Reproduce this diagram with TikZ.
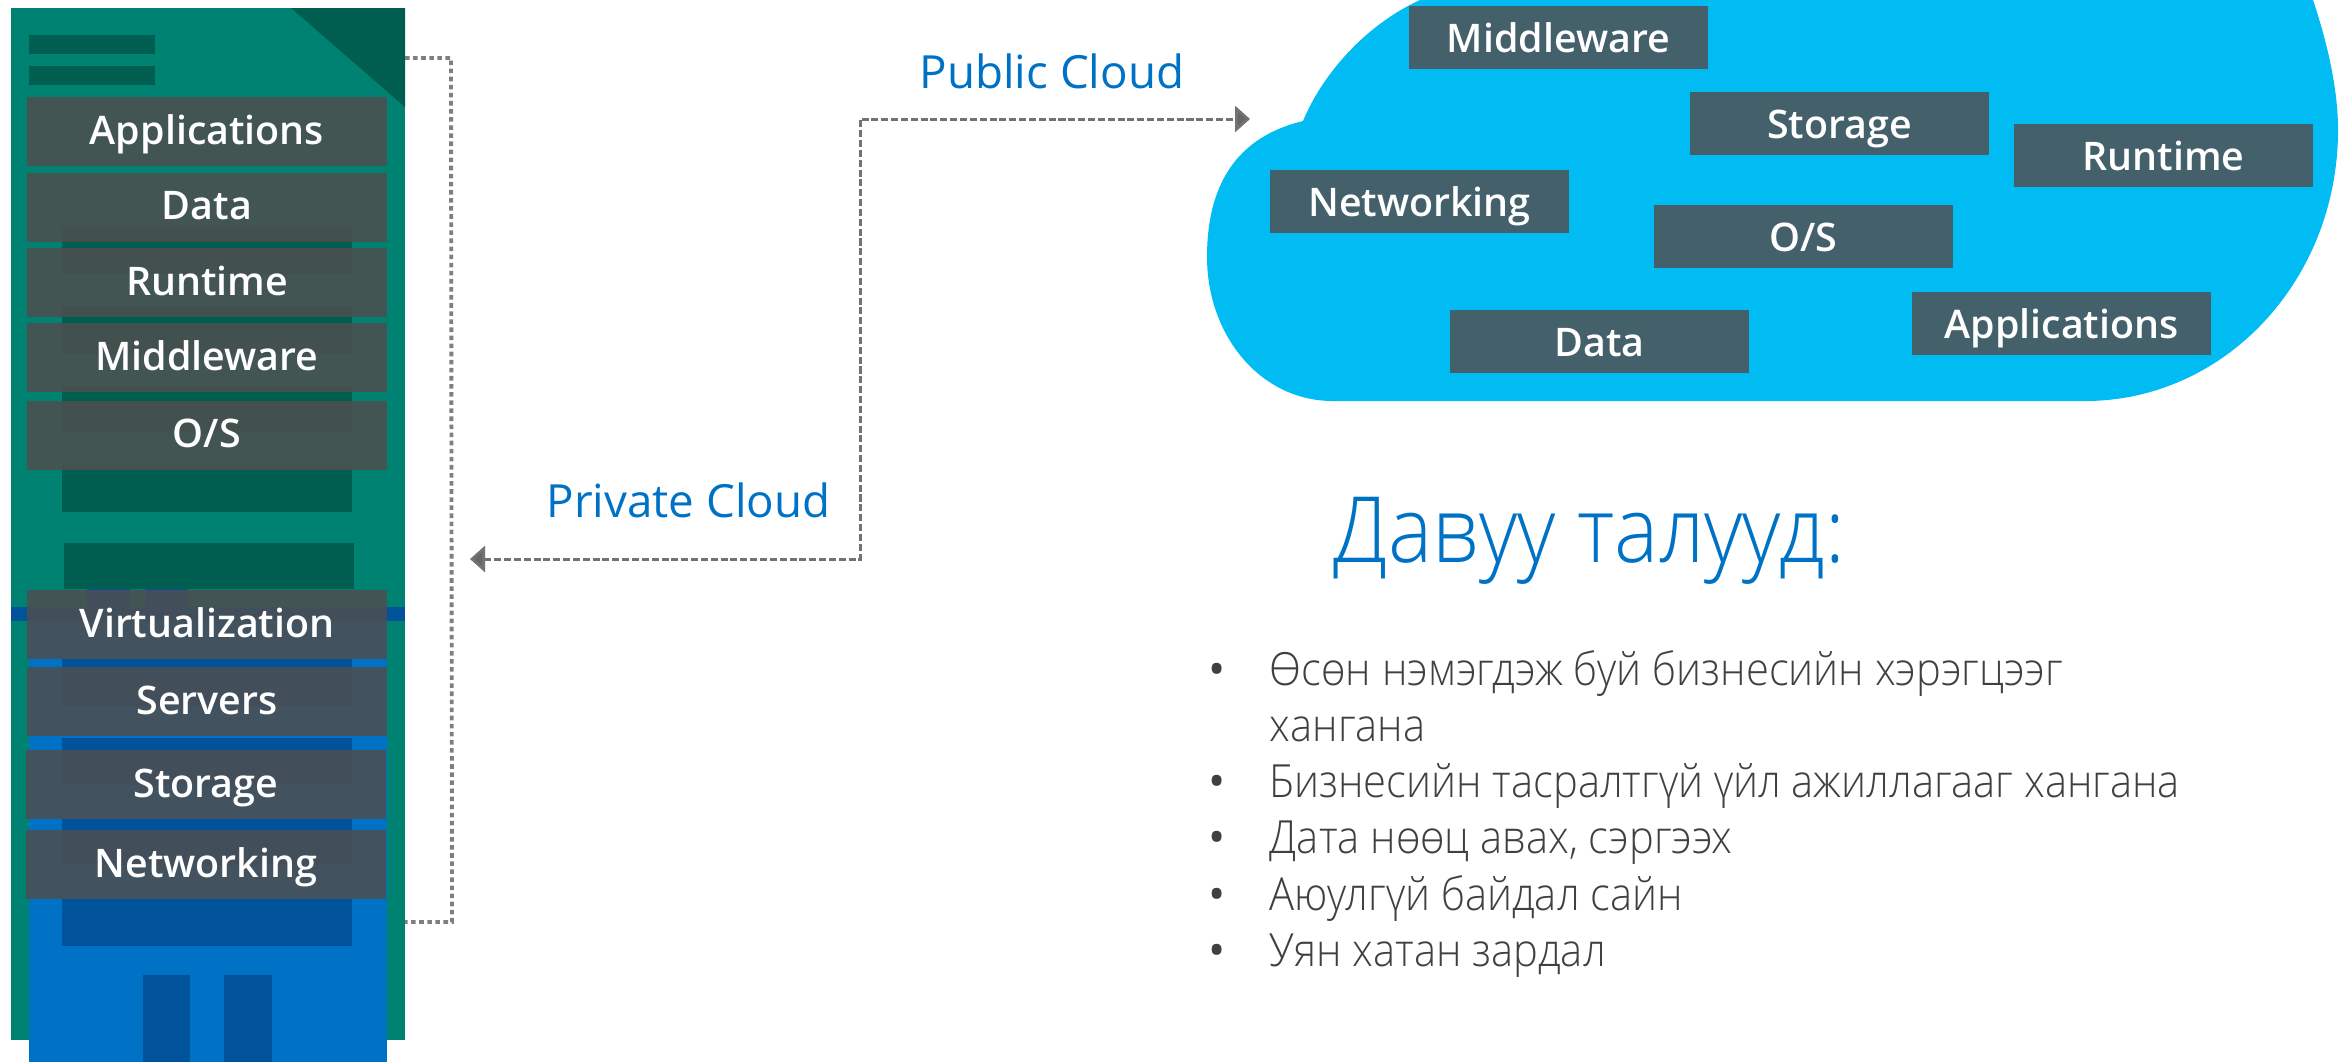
\documentclass[tikz,border=0pt]{standalone}
\usepackage{fontspec}
\usepackage{xcolor}
\usetikzlibrary{arrows.meta}
\setmainfont{Open Sans}
\newfontfamily\slabfont{Open Sans Semibold}
\newfontfamily\thinfont[FakeStretch=0.912]{Open Sans Light}
\definecolor{rackgreen}{HTML}{008272}
\definecolor{rackdarkgreen}{HTML}{005E50}
\definecolor{rackblue}{HTML}{0072C6}
\definecolor{rackdarkblue}{HTML}{00539A}
\definecolor{cloudblue}{HTML}{00BCF2}
\definecolor{slabgray}{HTML}{4E4E4E}
\definecolor{cloudslab}{HTML}{44606A}
\definecolor{bodygray}{HTML}{404040}
\definecolor{linegray}{HTML}{7F7F7F}
\tikzset{
    x=0.01cm,y=-0.01cm,
    rackslab/.style={fill=slabgray,fill opacity=0.85,text opacity=1,text=white,inner sep=0pt,minimum width=3.6cm,text height=0.47cm,text depth=0.22cm,font=\slabfont\fontsize{11.2}{13}\selectfont},
    cloudbox/.style={fill=cloudslab,text=white,inner sep=0pt,minimum width=2.99cm,text height=0.46cm,text depth=0.17cm,font=\slabfont\fontsize{11.2}{13}\selectfont},
    bluelabel/.style={anchor=base west,inner sep=0pt,text=rackblue,font=\fontsize{13}{15}\selectfont},
    bodyline/.style={anchor=base west,inner sep=0pt,text=bodygray,font=\thinfont\fontsize{13}{15}\selectfont},
    bulletmark/.style={anchor=base,inner sep=0pt,text=bodygray,font=\fontsize{13}{15}\selectfont},
    linkline/.style={draw=linegray!90!black,line width=0.85pt,dash pattern=on 2pt off 0.8pt,{Triangle[length=0.15cm,width=0.26cm,fill=linegray!80!black]}-{Triangle[length=0.15cm,width=0.26cm,fill=linegray!80!black]}},
    rackline/.style={draw=linegray,line width=1.1pt,dash pattern=on 1.3pt off 1pt}
}
\begin{document}
\begin{tikzpicture}
                \useasboundingbox (0,0) rectangle (2349,1062);
                % rack
                \fill[rackgreen] (11,8) rectangle (405,1040);
                \fill[rackdarkgreen] (291,8) -- (405,8) -- (405,107) -- cycle;
                \fill[rackdarkgreen] (29,35) rectangle (155,54);
                \fill[rackdarkgreen] (29,66) rectangle (155,85);
                \fill[rackdarkgreen] (62,227) rectangle (352,274);
                \fill[rackdarkgreen] (62,306) rectangle (352,354);
                \fill[rackdarkgreen] (62,386) rectangle (352,433);
                \fill[rackdarkgreen] (62,465) rectangle (352,512);
                \fill[rackdarkgreen] (64,543) rectangle (354,589);
                \fill[rackdarkblue] (87,589) rectangle (130,607);
                \fill[rackdarkblue] (145,589) rectangle (188,607);
                \fill[rackdarkblue] (11,607) rectangle (405,621);
                \fill[rackblue] (29,621) rectangle (387,1062);
                \fill[rackdarkblue] (62,659) rectangle (352,706);
                \fill[rackdarkblue] (62,738) rectangle (352,785);
                \fill[rackdarkblue] (62,819) rectangle (352,865);
                \fill[rackdarkblue] (62,899) rectangle (352,946);
                \fill[rackdarkblue] (143,975) rectangle (190,1062);
                \fill[rackdarkblue] (224,975) rectangle (272,1062);

                \node[rackslab] (rackapps) at (207,131.5) {Applications};
                \node[rackslab] (rackdata) at (207,207.25) {Data};
                \node[rackslab] (rackruntime) at (207,282.5) {Runtime};
                \node[rackslab] (rackmiddle) at (207,357.75) {Middleware};
                \node[rackslab] (rackos) at (207,435.25) {O/S};
                \node[rackslab] (rackvirt) at (207,624.5) {Virtualization};
                \node[rackslab] (rackservers) at (207,701.5) {Servers};
                \node[rackslab] (rackstorage) at (206,784.5) {Storage};
                \node[rackslab] (racknet) at (206,864.5) {Networking};

                % cloud
                \fill[cloudblue] (1303,121) .. controls (1322,75) and (1365,25) .. (1420,0) -- (2313,0)
                    .. controls (2328,45) and (2338,90) .. (2338,130) .. controls (2338,280) and (2225,401) .. (2085,401)
                    -- (1333,401) .. controls (1260,401) and (1207,335) .. (1207,257)
                    .. controls (1207,175) and (1245,135) .. (1303,121) -- cycle;
                \node[cloudbox] (cloudmiddle) at (1558.5,37.5) {Middleware};
                \node[cloudbox] (cloudstorage) at (1839.5,123.5) {Storage};
                \node[cloudbox] (cloudruntime) at (2163.5,155.5) {Runtime};
                \node[cloudbox] (cloudnet) at (1419.5,201.5) {Networking};
                \node[cloudbox] (cloudos) at (1803.5,236.5) {O/S};
                \node[cloudbox] (clouddata) at (1599.5,341.5) {Data};
                \node[cloudbox] (cloudapps) at (2061.5,323.5) {Applications};

                % links
                \coordinate (racktop) at (405,58);
                \coordinate (racktopbend) at (451,58);
                \coordinate (rackbotbend) at (452,922);
                \coordinate (rackbot) at (405,922);
                \draw[rackline] (racktop) -- (racktopbend) -- (rackbotbend) -- (rackbot);
                \coordinate (privatetip) at (470,559);
                \coordinate (privatebend) at (860,559);
                \coordinate (publicbend) at (860,119);
                \coordinate (publictip) at (1250,119);
                \draw[linkline] (privatetip) -- (privatebend) -- (publicbend) -- (publictip);
                \node[bluelabel] (publiclabel) at (919,88) {Public Cloud};
                \node[bluelabel] (privatelabel) at (546,517) {Private Cloud};

                % text
                \node[anchor=base west,inner sep=0pt,text=rackblue,font=\thinfont\fontsize{26}{30}\selectfont] (titletext) at (1333,562) {Давуу талууд:};
                \node[bulletmark] (dotone) at (1217,685) {•};
                \node[bodyline] (lineone) at (1269,685) {Өсөн нэмэгдэж буй бизнесийн хэрэгцээг};
                \node[bodyline] (lineonetwo) at (1269,741) {хангана};
                \node[bulletmark] (dottwo) at (1217,797) {•};
                \node[bodyline] (linetwo) at (1269,797) {Бизнесийн тасралтгүй үйл ажиллагааг хангана};
                \node[bulletmark] (dotthree) at (1217,853) {•};
                \node[bodyline] (linethree) at (1269,853) {Дата нөөц авах, сэргээх};
                \node[bulletmark] (dotfour) at (1217,910) {•};
                \node[bodyline] (linefour) at (1269,910) {Аюулгүй байдал сайн};
                \node[bulletmark] (dotfive) at (1217,966) {•};
                \node[bodyline] (linefive) at (1269,966) {Уян хатан зардал};
\end{tikzpicture}
\end{document}
